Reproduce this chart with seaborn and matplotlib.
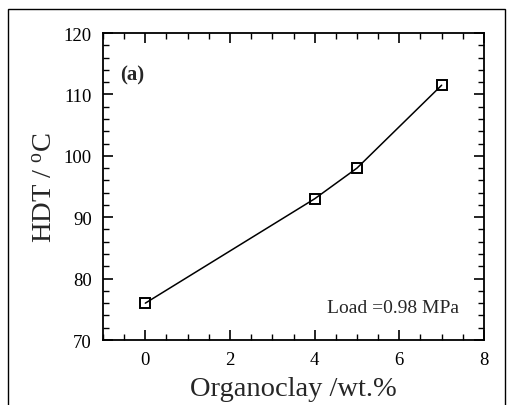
import matplotlib
matplotlib.use('Agg')
import matplotlib.pyplot as plt
from matplotlib.patches import Rectangle
from matplotlib.ticker import MultipleLocator
import pandas as pd
import seaborn as sns

# === DONNEES ===
organoclay = [0, 4, 5, 7]
hdt = [76.0, 93.0, 98.0, 111.5]

df = pd.DataFrame({"organoclay": organoclay, "hdt": hdt})

sns.set_theme(style="ticks")
plt.rcParams['font.family'] = ['Liberation Serif', 'DejaVu Serif']
plt.rcParams['mathtext.fontset'] = 'stix'

fig = plt.figure(figsize=(5.07, 4.06), dpi=100)
ax = fig.add_axes([103 / 507, 1 - 341 / 406, 381 / 507, 307 / 406])

sns.lineplot(data=df, x="organoclay", y="hdt", ax=ax, color="black", linewidth=1.1,
             marker="s", markersize=6.5, markerfacecolor="none", markeredgecolor="black",
             markeredgewidth=1.4)

ax.set_xlim(-1, 8)
ax.set_ylim(70, 120)
ax.xaxis.set_major_locator(MultipleLocator(2))
ax.xaxis.set_minor_locator(MultipleLocator(0.5))
ax.yaxis.set_major_locator(MultipleLocator(10))
ax.yaxis.set_minor_locator(MultipleLocator(2))
ax.tick_params(which="both", direction="in", top=True, right=True, colors="black",
               labelsize=13.5)
ax.tick_params(which="major", length=7, width=1.2, pad=8)
ax.tick_params(which="minor", length=4, width=1.0)
for s in ax.spines.values():
    s.set_linewidth(1.3)
    s.set_color("black")

ax.set_xlabel("Organoclay /wt.%", fontsize=20.5, labelpad=6)
ax.set_ylabel(r"HDT / $\mathregular{^{o}}$C", fontsize=20.5, labelpad=4)

ax.text(0.045, 0.85, "(a)", transform=ax.transAxes, fontsize=15, fontweight="bold")
ax.text(0.935, 0.09, "Load =0.98 MPa", transform=ax.transAxes, fontsize=14, ha="right")

fig.patches.append(Rectangle((8 / 507, -0.1), 497 / 507, 1.1 - 10 / 406,
                             transform=fig.transFigure, fill=False,
                             edgecolor="black", linewidth=1.0))

fig.savefig("out.png", dpi=100)
